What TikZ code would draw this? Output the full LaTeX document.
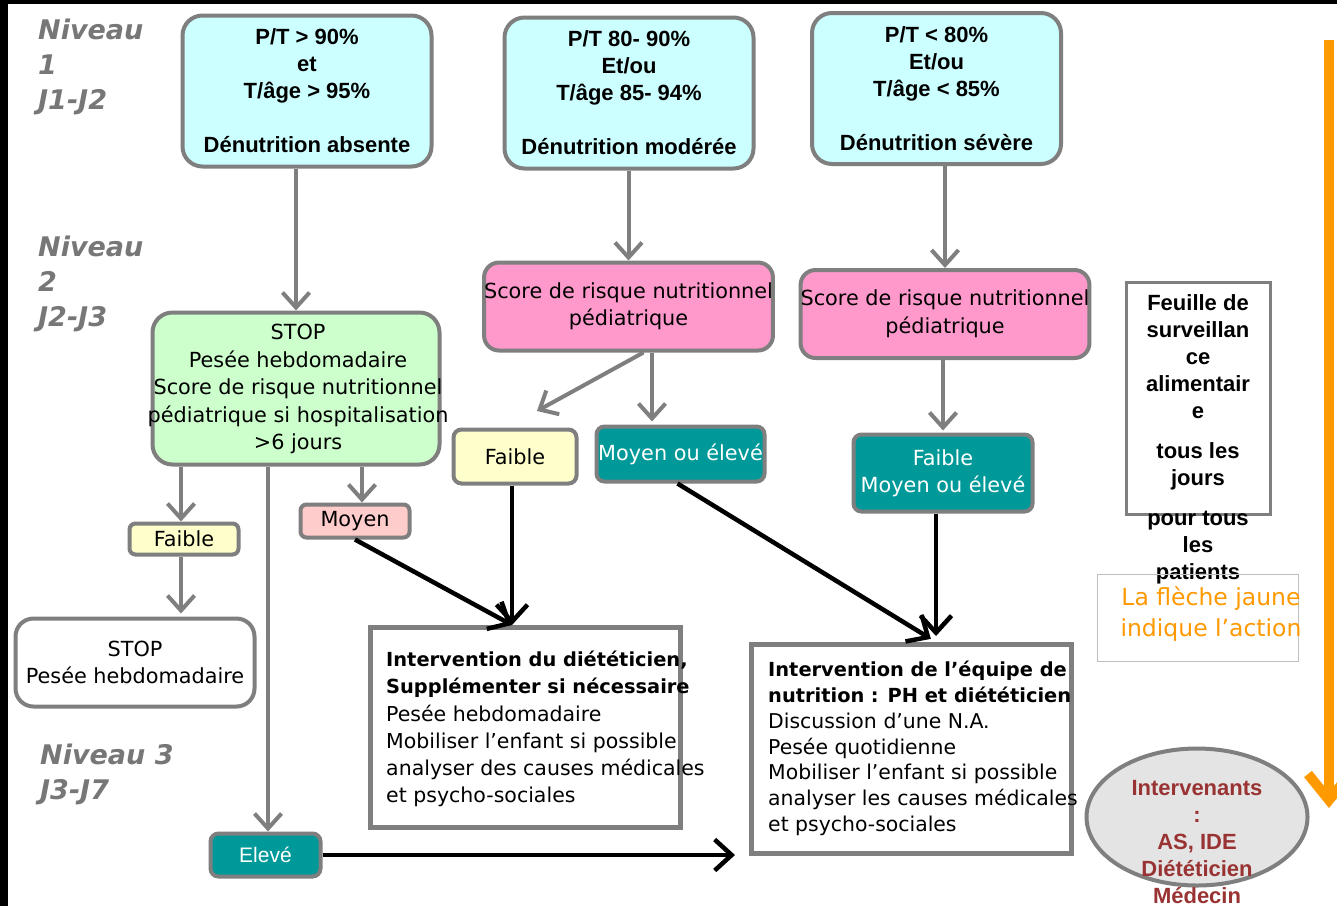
\documentclass[tikz,border=0pt]{standalone}
\usepackage{fontspec}
\setmainfont{Liberation Sans}
\newfontfamily\comicf{DejaVu Sans}
\usetikzlibrary{arrows.meta,shapes.geometric,calc}
\definecolor{bgray}{HTML}{7F7F7F}
\definecolor{cyanfill}{HTML}{CCFFFF}
\definecolor{greenfill}{HTML}{CCFFCC}
\definecolor{pinkfill}{HTML}{FF99CC}
\definecolor{yellowfill}{HTML}{FFFFCC}
\definecolor{tealfill}{HTML}{009999}
\definecolor{rosefill}{HTML}{FFCCCC}
\definecolor{ellfill}{HTML}{E4E4E4}
\definecolor{darkred}{HTML}{993333}
\definecolor{orangec}{HTML}{FF9900}
\definecolor{levelgray}{HTML}{777777}
\definecolor{leggray}{HTML}{BFBFBF}
\newcommand\arialB{\fontsize{22}{27}\selectfont\bfseries}
\newcommand\cmc{\comicf\fontsize{20.8}{27.5}\selectfont}
\begin{document}
\begin{tikzpicture}[x=1pt,y=-1pt,
  box/.style={draw=bgray, line width=4pt, inner sep=0pt, align=center},
  topbox/.style={box, fill=cyanfill, rounded corners=20pt, minimum width=249pt, minimum height=151pt, font=\arialB},
  pinkbox/.style={box, fill=pinkfill, rounded corners=15pt, minimum width=282pt, minimum height=88pt, font=\cmc},
  tealbox/.style={box, fill=tealfill, text=white, rounded corners=8pt},
  smallbox/.style={box, rounded corners=6pt, font=\cmc},
  rectbox/.style={draw=bgray, line width=5pt, fill=white, inner sep=0pt},
  cmctext/.style={inner sep=0pt, font=\cmc, align=center},
  leveltxt/.style={inner sep=0pt, anchor=west, align=left, text=levelgray, font=\comicf\bfseries\itshape\fontsize{27}{35}\selectfont},
  garrow/.style={draw=bgray, line width=4pt, -{Straight Barb[length=15pt,width=27pt]}},
  karrow/.style={draw=black, line width=4.5pt, -{Straight Barb[length=17pt,width=31pt]}},
  oarrow/.style={draw=orangec, line width=10pt, -{Straight Barb[length=26pt,width=42pt]}}
]
\useasboundingbox (0,0) rectangle (1337,906);
\fill[white] (0,0) rectangle (1337,906);
\fill[black] (0,0) rectangle (8,906);
\fill[black] (0,0) rectangle (1337,4);

% level labels
\node[leveltxt] (lv1) at (38,67) {Niveau\\1\\J1-J2};
\node[leveltxt] (lv2) at (38,284) {Niveau\\2\\J2-J3};
\node[leveltxt] (lv3) at (40,774.5) {Niveau 3\\J3-J7};

% top boxes
\node[topbox] (b1) at (307,91) {P/T > 90\%\\et\\T/âge > 95\%\\[27pt]Dénutrition absente};
\node[topbox] (b2) at (629,93) {P/T 80- 90\%\\Et/ou\\T/âge 85- 94\%\\[27pt]Dénutrition modérée};
\node[topbox] (b3) at (936.5,88.5) {P/T < 80\%\\Et/ou\\T/âge < 85\%\\[27pt]Dénutrition sévère};

% level 2
\node[box, fill=greenfill, rounded corners=20pt, minimum width=287pt, minimum height=152pt] (g) at (296,388.5) {};
\node[cmctext] (gt) at (298,389) {STOP\\Pesée hebdomadaire\\Score de risque nutritionnel\\pédiatrique si hospitalisation\\>6 jours};
\node[pinkbox] (p1) at (628.5,306.5) {Score de risque nutritionnel\\pédiatrique};
\node[pinkbox] (p2) at (945,314) {Score de risque nutritionnel\\pédiatrique};

\node[smallbox, fill=yellowfill, rounded corners=8pt, minimum width=123pt, minimum height=54pt] (fa) at (515,456.5) {Faible};
\node[tealbox, font=\cmc, minimum width=168pt, minimum height=55pt] (t1) at (680.5,454) {Moyen ou élevé};
\node[tealbox, font=\cmc, minimum width=179pt, minimum height=77pt] (t2) at (943,473) {Faible\\Moyen ou élevé};

\node[smallbox, fill=yellowfill, minimum width=109pt, minimum height=31pt] (fs) at (184,539) {Faible};
\node[smallbox, fill=rosefill, minimum width=109pt, minimum height=33pt] (mo) at (355,521) {Moyen};
\node[box, fill=white, rounded corners=18pt, minimum width=239pt, minimum height=88pt, font=\cmc] (st) at (135,662.5) {STOP\\Pesée hebdomadaire};
\node[tealbox, font=\fontsize{21}{26}\selectfont, minimum width=110pt, minimum height=43pt] (el) at (265.5,855) {Elevé};

% intervention boxes
\node[rectbox, minimum width=310pt, minimum height=200pt] (i1) at (525.5,727.5) {};
\node[inner sep=0pt, anchor=west, align=left, font=\comicf\fontsize{20.5}{27.2}\selectfont] (i1t) at (386,729)
  {{\bfseries\fontsize{19.4}{27.2}\selectfont Intervention du diététicien,}\\
   {\bfseries\fontsize{19.4}{27.2}\selectfont Supplémenter si nécessaire}\\
   Pesée hebdomadaire\\Mobiliser l’enfant si possible\\analyser des causes médicales\\et psycho-sociales};
\node[rectbox, minimum width=320pt, minimum height=209pt] (i2) at (911.5,749) {};
\node[inner sep=0pt, anchor=west, align=left, font=\comicf\fontsize{20.4}{25.8}\selectfont] (i2t) at (768,748.5)
  {{\bfseries\fontsize{19.4}{25.8}\selectfont Intervention de l’équipe de}\\
   {\bfseries\fontsize{19.4}{25.8}\selectfont nutrition\,\,: PH et diététicien}\\
   Discussion\,\,d’une N.A.\\Pesée quotidienne\\Mobiliser l’enfant si possible\\analyser les causes médicales\\et psycho-sociales};

% right column
\node[draw=bgray, line width=3.5pt, fill=white, minimum width=144pt, minimum height=232pt] (fe) at (1198.5,398.5) {};
\node[inner sep=0pt, align=center, font=\arialB] (fet) at (1198,439)
  {Feuille de\\surveillan\\ce\\alimentair\\e\\[13pt]tous les\\jours\\[13pt]pour tous\\les\\patients};
\node[draw=leggray, line width=1.2pt, minimum width=201pt, minimum height=87pt] (leg) at (1198,618) {};
\node[inner sep=0pt, align=center, text=orangec, font=\comicf\fontsize{23.5}{31}\selectfont] (legt) at (1211,614.5) {La flèche jaune\\indique l’action};
\node[ellipse, draw=bgray, line width=4pt, fill=ellfill, minimum width=221pt, minimum height=137pt] (iv) at (1197,817) {};
\node[inner sep=0pt, align=center, text=darkred, font=\arialB] (ivt) at (1197,842) {Intervenants\\:\\AS, IDE\\Diététicien\\Médecin};

% orange action arrow
\coordinate (oa) at (1329,40);
\coordinate (ob) at (1329,808);
\draw[oarrow] (oa) -- (ob);

% gray arrows
\draw[garrow] (g.north |- b1.south) -- (g.north);
\draw[garrow] (p1.north |- b2.south) -- (p1.north);
\draw[garrow] (p2.north |- b3.south) -- (p2.north);
\coordinate (faIn) at (537,411);
\draw[garrow] ([xshift=15pt]p1.south) -- (faIn);
\draw[garrow, shorten >=3pt] ([xshift=-28.5pt]t1.north |- p1.south) -- ([xshift=-28.5pt]t1.north);
\draw[garrow, shorten >=2pt] (t2.north |- p2.south) -- (t2.north);
\draw[garrow] ([xshift=-3pt]fs.north |- g.south) -- ([xshift=-3pt]fs.north);
\draw[garrow] ([xshift=7pt]mo.north |- g.south) -- ([xshift=7pt]mo.north);
\draw[garrow] ([xshift=2.5pt]el.north |- g.south) -- ([xshift=2.5pt]el.north);
\draw[garrow, shorten >=3pt] ([xshift=-3pt]fs.south) -- ([xshift=-3pt]fs.south |- st.north);

% black arrows
\draw[karrow] (mo.south) -- ([xshift=-3pt]fa.south |- i1.north);
\draw[karrow] ([xshift=-3pt]fa.south) -- ([xshift=-3pt]fa.south |- i1.north);
\draw[karrow, shorten >=6pt] ([xshift=-3pt]t1.south) -- ([xshift=-7pt]t2.south |- i2.north);
\draw[karrow, shorten >=6pt] ([xshift=-7pt]t2.south) -- ([xshift=-7pt]t2.south |- i2.north);
\draw[karrow, shorten >=14pt] (el.east) -- (el.east -| i2.west);
\end{tikzpicture}
\end{document}
